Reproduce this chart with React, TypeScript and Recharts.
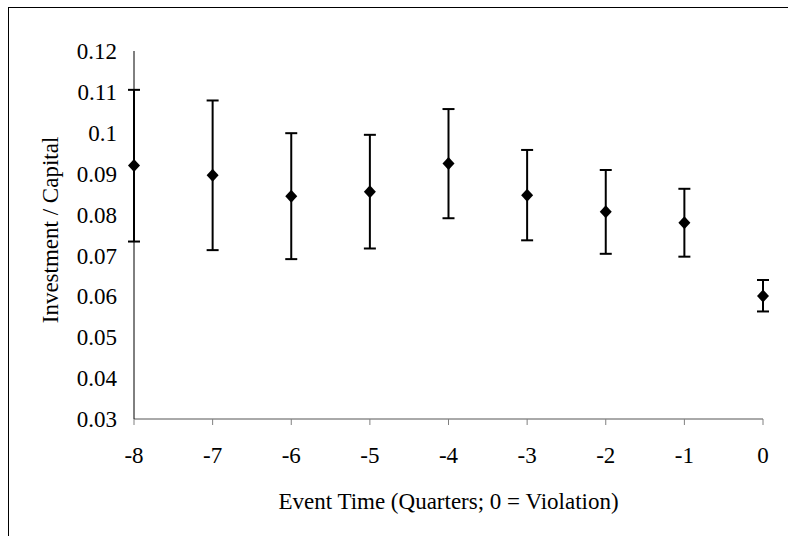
import React from 'react';
import { ScatterChart, Scatter, XAxis, YAxis, ErrorBar, Label } from 'recharts';

const eventTimes = [-8, -7, -6, -5, -4, -3, -2, -1, 0];
const investmentRatio = [0.092, 0.0896, 0.0845, 0.0856, 0.0925, 0.0847, 0.0807, 0.078, 0.0601];
const lowerBounds = [0.0734, 0.0713, 0.0691, 0.0717, 0.0791, 0.0737, 0.0704, 0.0697, 0.0563];
const upperBounds = [0.1105, 0.1079, 0.0999, 0.0995, 0.1058, 0.0958, 0.0909, 0.0863, 0.064];
const xTicks = [-8, -7, -6, -5, -4, -3, -2, -1, 0];
const yTicks = [0.03, 0.04, 0.05, 0.06, 0.07, 0.08, 0.09, 0.1, 0.11, 0.12];

const data = eventTimes.map((t, i) => ({
  x: t,
  y: investmentRatio[i],
  err: [investmentRatio[i] - lowerBounds[i], upperBounds[i] - investmentRatio[i]],
}));

const FONT = '"Liberation Serif", "Times New Roman", serif';
const FS = 23;

const Diamond = (props: any) => {
  const { cx, cy } = props;
  if (cx == null || cy == null) return null;
  const w = 6;
  const h = 6.5;
  return (
    <polygon
      points={`${cx},${cy - h} ${cx + w},${cy} ${cx},${cy + h} ${cx - w},${cy}`}
      fill="#000"
      stroke="none"
    />
  );
};

export default function App() {
  return (
    <div
      style={{
        position: 'absolute',
        left: 8,
        top: 7,
        width: 779,
        height: 528,
        borderTop: '1px solid #000',
        borderLeft: '1px solid #000',
        background: '#fff',
      }}
    >
      <ScatterChart
        width={779}
        height={528}
        margin={{ top: 43, right: 25, bottom: 0, left: 0 }}
        style={{ fontFamily: FONT }}
      >
        <XAxis
          type="number"
          dataKey="x"
          domain={[-8, 0]}
          ticks={xTicks}
          interval={0}
          height={117}
          stroke="#555"
          tickSize={6}
          tickMargin={22}
          tickLine={{ stroke: '#808080' }}
          tick={{ fill: '#000', fontSize: FS, fontFamily: FONT }}
        >
          <Label
            value="Event Time (Quarters; 0 = Violation)"
            position="insideBottom"
            offset={27}
            fill="#000"
            fontSize={FS}
            fontFamily={FONT}
          />
        </XAxis>
        <YAxis
          type="number"
          dataKey="y"
          domain={[0.03, 0.12]}
          ticks={yTicks}
          interval={0}
          width={125}
          stroke="#000"
          tickLine={false}
          tickSize={0}
          tickMargin={17}
          tickFormatter={(v: number) => String(v)}
          tick={{ fill: '#000', fontSize: FS, fontFamily: FONT }}
        >
          <Label
            value="Investment / Capital"
            position="center"
            angle={-90}
            dx={-22}
            dy={-5}
            fill="#000"
            fontSize={FS}
            fontFamily={FONT}
          />
        </YAxis>
        <Scatter data={data} shape={Diamond} isAnimationActive={false}>
          <ErrorBar dataKey="err" direction="y" width={6} stroke="#000" strokeWidth={2} isAnimationActive={false} />
        </Scatter>
      </ScatterChart>
    </div>
  );
}
